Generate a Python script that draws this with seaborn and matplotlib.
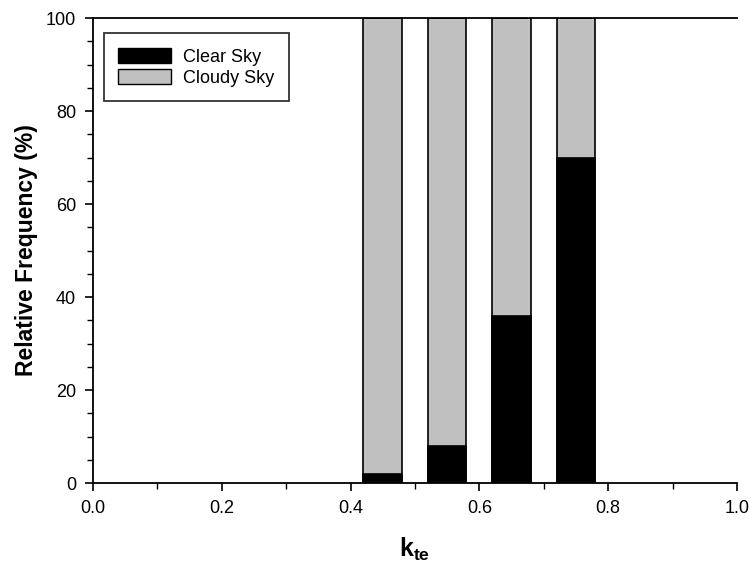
import matplotlib
matplotlib.use("Agg")
import matplotlib.pyplot as plt
import seaborn as sns
import pandas as pd
from matplotlib.patches import Patch
from matplotlib.ticker import MultipleLocator, FormatStrFormatter

kte = [0.45, 0.55, 0.65, 0.75]
clear = [2, 8, 36, 70]
cloudy = [98, 92, 64, 30]

sns.set_style("ticks")
plt.rcParams['font.family'] = ['Liberation Sans', 'DejaVu Sans']
plt.rcParams['mathtext.fontset'] = 'custom'
plt.rcParams['mathtext.rm'] = 'Liberation Sans'
plt.rcParams['mathtext.bf'] = 'Liberation Sans:bold'
plt.rcParams['text.color'] = 'black'
plt.rcParams['axes.labelcolor'] = 'black'
plt.rcParams['xtick.color'] = 'black'
plt.rcParams['ytick.color'] = 'black'

df = pd.DataFrame({"kte": kte, "clear": clear, "cloudy": cloudy})
df["total"] = df["clear"] + df["cloudy"]

fig = plt.figure(figsize=(7.49, 5.63), dpi=100)
ax = fig.add_axes([0.124, 0.142, 0.86, 0.826])

sns.barplot(data=df, x="kte", y="total", native_scale=True, width=0.6,
            color="#c0c0c0", saturation=1, edgecolor="black", linewidth=1.2, ax=ax)
sns.barplot(data=df, x="kte", y="clear", native_scale=True, width=0.6,
            color="black", saturation=1, edgecolor="black", linewidth=1.2, ax=ax)

ax.set_xlim(0, 1.0)
ax.set_ylim(0, 100)
ax.xaxis.set_major_locator(MultipleLocator(0.2))
ax.xaxis.set_minor_locator(MultipleLocator(0.1))
ax.yaxis.set_major_locator(MultipleLocator(20))
ax.yaxis.set_minor_locator(MultipleLocator(5))
ax.xaxis.set_major_formatter(FormatStrFormatter('%.1f'))
ax.tick_params(axis='both', which='major', direction='out', length=6, width=1.2,
               labelsize=13, colors='black', pad=6)
ax.tick_params(axis='both', which='minor', direction='out', length=4, width=1)

for s in ["left", "bottom", "top"]:
    ax.spines[s].set_visible(True)
    ax.spines[s].set_linewidth(1.3)
    ax.spines[s].set_color("black")
ax.spines["right"].set_visible(False)

ax.set_xlabel(r"$\mathbf{k_{te}}$", fontsize=18, labelpad=14)
ax.set_ylabel("Relative Frequency (%)", fontsize=16.5, fontweight="bold", labelpad=6)

handles = [Patch(facecolor="black", edgecolor="black", label="Clear Sky"),
           Patch(facecolor="#c0c0c0", edgecolor="black", label="Cloudy Sky")]
leg = ax.legend(handles=handles, loc="upper left", bbox_to_anchor=(0.0, 0.99),
                frameon=True, fancybox=False, edgecolor="black", fontsize=13,
                handlelength=2.9, handleheight=0.9, handletextpad=0.7,
                borderpad=0.8, labelspacing=0.2, borderaxespad=0.6)
leg.get_frame().set_linewidth(1.3)
for t in leg.get_texts():
    t.set_color("black")

fig.savefig("out.png", dpi=100)
